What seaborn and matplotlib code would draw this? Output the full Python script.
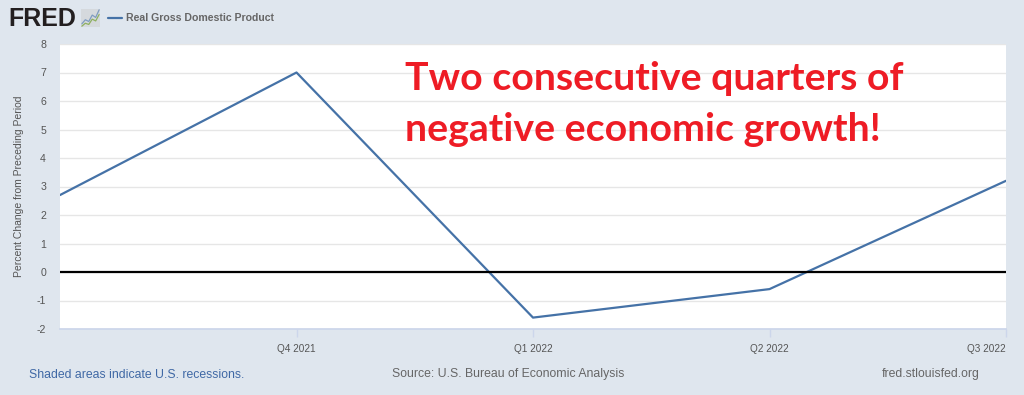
import pandas as pd
import matplotlib
matplotlib.use('Agg')
import matplotlib.pyplot as plt
import seaborn as sns

quarters = ['Q3 2021', 'Q4 2021', 'Q1 2022', 'Q2 2022', 'Q3 2022']
gdp_change = [2.7, 7.0, -1.6, -0.6, 3.2]
tick_labels = ['Q4 2021', 'Q1 2022', 'Q2 2022', 'Q3 2022']
y_ticks = [-2, -1, 0, 1, 2, 3, 4, 5, 6, 7, 8]
logo_blue = [0.9, 1.6, 1.3, 2.4, 2.0, 3.3]
logo_green = [0.5, 1.0, 0.8, 1.7, 1.4, 2.5]

BG = '#DFE6EE'
LINE = '#4572A7'
GREY = '#555555'
RED = '#EE1C25'

sns.set_theme(style='white')
plt.rcParams['font.family'] = ['Liberation Sans', 'DejaVu Sans']
plt.rcParams['axes.unicode_minus'] = False

W, H = 1024, 395
fig = plt.figure(figsize=(W / 100, H / 100), dpi=100, facecolor=BG)
ax = fig.add_axes([60 / W, 1 - 329 / H, (1006 - 60) / W, (329 - 44) / H])

df = pd.DataFrame({'quarter': range(len(quarters)), 'gdp': gdp_change})
sns.lineplot(data=df, x='quarter', y='gdp', ax=ax, color=LINE, linewidth=1.6, zorder=3)
ax.axhline(0, color='black', linewidth=1.6, zorder=4)

ax.set_xlim(0, 4)
ax.set_ylim(-2, 8)
ax.set_yticks(y_ticks)
ax.set_xticks(range(1, len(quarters)))
ax.set_xticklabels(tick_labels)
ax.grid(True, axis='y', color='#E6E6E6', linewidth=1)
ax.set_xlabel('')
ax.set_ylabel('Percent Change from Preceding Period', fontsize=7.5, color=GREY)
ax.yaxis.set_label_coords(-36 / 946, 0.5)
ax.tick_params(axis='y', length=0, labelsize=7.6, labelcolor=GREY, pad=10)
ax.tick_params(axis='x', length=6, width=1, color='#CCD6EB', labelsize=7.2, labelcolor=GREY, pad=5, bottom=True)
labels = ax.get_xticklabels()
labels[-1].set_ha('right')
for name in ['top', 'left', 'right']:
    ax.spines[name].set_visible(False)
ax.spines['bottom'].set_color('#CCD6EB')

# red callout on the plot
fig.text(405 / W, 1 - 90 / H, 'Two consecutive quarters of', family='Lato', fontweight='bold',
         fontsize=28.3, color=RED, va='baseline')
fig.text(405 / W, 1 - 141 / H, 'negative economic growth!', family='Lato', fontweight='bold',
         fontsize=28.3, color=RED, va='baseline')

# header
fig.text(8 / W, 1 - 26.5 / H, 'FRED', fontsize=18, fontweight='bold', color='#231F20', va='baseline')
logo = fig.add_axes([81 / W, 1 - 27 / H, 19 / W, 18 / H])
logo.set_facecolor('#D5D9DD')
logo.plot(logo_blue, color='#7F9CC0', linewidth=0.9)
logo.plot(logo_green, color='#8FB060', linewidth=0.9)
logo.set_xticks([])
logo.set_yticks([])
for s in logo.spines.values():
    s.set_visible(False)
fig.add_artist(plt.Line2D([108 / W, 122 / W], [1 - 17.5 / H, 1 - 17.5 / H], color=LINE, linewidth=1.6))
fig.text(126 / W, 1 - 21 / H, 'Real Gross Domestic Product', fontsize=7.6, fontweight='bold',
         color='#666666', va='baseline')

# footer
fig.text(29 / W, 1 - 377.5 / H, 'Shaded areas indicate U.S. recessions.', fontsize=8.8, color='#3F68A5', va='baseline')
fig.text(392 / W, 1 - 377.5 / H, 'Source: U.S. Bureau of Economic Analysis', fontsize=8.8, color='#666666', va='baseline')
fig.text(882 / W, 1 - 377.5 / H, 'fred.stlouisfed.org', fontsize=8.8, color='#666666', va='baseline')

fig.savefig('out.png', dpi=100, facecolor=BG)
